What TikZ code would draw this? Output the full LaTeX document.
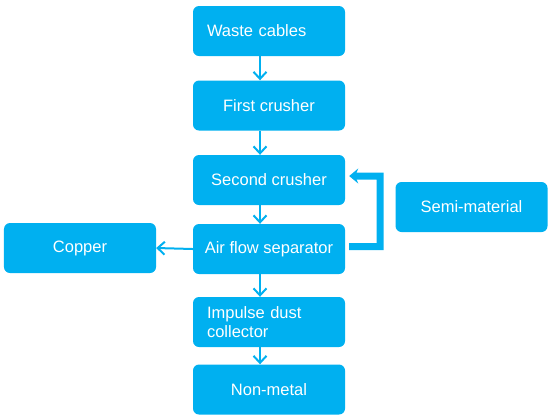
\documentclass[tikz,border=0pt]{standalone}
\usepackage{fontspec}
\setsansfont{Liberation Sans}
\usetikzlibrary{arrows.meta}
\definecolor{flowblue}{HTML}{00B0F0}
\tikzset{
  stage/.style={fill=flowblue,text=white,rounded corners=6bp,minimum width=152bp,minimum height=50bp,inner sep=0pt},
  leftstage/.style={stage,text width=124bp,inner xsep=14bp,align=left},
  flow/.style={draw=flowblue,line width=2bp,-{Straight Barb[length=7bp,width=13bp,line width=2bp]}},
  feedback/.style={draw=flowblue,line width=7bp,-{Stealth[length=9bp,width=15bp,inset=3bp]}}
}
\begin{document}
\begin{tikzpicture}[x=1bp,y=-1bp,font=\sffamily\fontsize{16.5bp}{19bp}\selectfont]
\useasboundingbox (0,0) rectangle (551,419);
 \node[leftstage] (waste) at (269,31) {Waste cables}; %input
 \node[stage] (first) at (269,105.5) {First crusher};
 \node[stage] (second) at (269,180) {Second crusher};
 \node[stage] (sep) at (269,249) {Air flow separator};
 \node[leftstage] (dust) at (269,322) {Impulse dust\\collector};
 \node[stage] (nonmetal) at (269,389.5) {Non-metal}; %outputs
 \node[stage] (copper) at (80,248) {Copper};
 \node[stage] (semi) at (471.5,207) {Semi-material};

%main line
 \draw[flow] ([xshift=-9bp]waste.south) -- ([xshift=-9bp]first.north);
 \draw[flow] ([xshift=-9bp]first.south) -- ([xshift=-9bp]second.north);
 \draw[flow] ([xshift=-9bp]second.south) -- ([xshift=-9bp]sep.north);
 \draw[flow] ([xshift=-9bp]sep.south) -- ([xshift=-9bp]dust.north);
 \draw[flow] ([xshift=-9bp]dust.south) -- ([xshift=-9bp]nonmetal.north);
 \draw[flow] (sep.west) -- (copper.east); %copper out

%back to second crusher
 \coordinate (back) at (380,176);
 \draw[feedback] ([xshift=4bp,yshift=2.5bp]sep.east) -| (back) -- ([xshift=4bp,yshift=4bp]second.east);
\end{tikzpicture}
\end{document}
